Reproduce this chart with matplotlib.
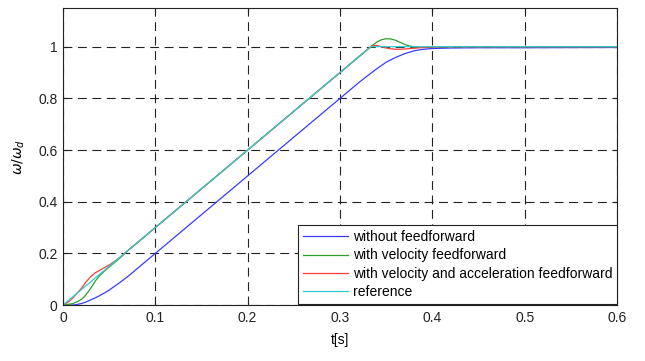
import matplotlib
matplotlib.use("Agg")
import matplotlib.pyplot as plt

plt.rcParams['font.family'] = ['Liberation Sans', 'DejaVu Sans']

# === Data ===
t_ref = [0.0, 0.3333, 0.6]
w_ref = [0.0, 1.0, 1.0]

t_noff = [0.0, 0.01, 0.015, 0.02, 0.025, 0.03, 0.035, 0.04, 0.045, 0.05, 0.06, 0.07,
          0.08, 0.1, 0.2, 0.3, 0.31, 0.32, 0.33, 0.34, 0.35, 0.36, 0.37, 0.38, 0.39,
          0.40, 0.42, 0.45, 0.5, 0.6]
w_noff = [0.0, 0.0, 0.002, 0.006, 0.012, 0.02, 0.028, 0.037, 0.047, 0.058, 0.083, 0.11,
          0.14, 0.2, 0.5, 0.8, 0.83, 0.86, 0.888, 0.915, 0.94, 0.958, 0.973, 0.984, 0.99,
          0.993, 0.995, 0.996, 0.996, 0.997]

t_vel = [0.0, 0.01, 0.015, 0.02, 0.025, 0.03, 0.035, 0.04, 0.045, 0.05, 0.055, 0.06,
         0.07, 0.1, 0.2, 0.3, 0.33, 0.335, 0.34, 0.345, 0.35, 0.355, 0.36, 0.365, 0.37,
         0.375, 0.38, 0.39, 0.4, 0.45, 0.6]
w_vel = [0.0, 0.005, 0.012, 0.022, 0.04, 0.065, 0.093, 0.115, 0.132, 0.147, 0.162, 0.177,
         0.21, 0.3, 0.6, 0.9, 0.99, 1.005, 1.018, 1.027, 1.031, 1.03, 1.025, 1.017, 1.009,
         1.003, 1.0, 0.998, 0.999, 1.0, 1.0]

t_acc = [0.0, 0.005, 0.01, 0.015, 0.02, 0.025, 0.03, 0.035, 0.04, 0.045, 0.05, 0.055,
         0.06, 0.07, 0.1, 0.2, 0.3, 0.33, 0.335, 0.34, 0.345, 0.35, 0.355, 0.36, 0.365,
         0.37, 0.38, 0.39, 0.4, 0.42, 0.6]
w_acc = [0.0, 0.01, 0.025, 0.045, 0.065, 0.09, 0.11, 0.125, 0.135, 0.145, 0.155, 0.167,
         0.18, 0.21, 0.3, 0.6, 0.9, 0.99, 1.003, 1.005, 1.0, 0.995, 0.992, 0.99, 0.99,
         0.991, 0.994, 0.997, 0.999, 1.0, 1.0]

labels = ["without feedforward", "with velocity feedforward",
          "with velocity and acceleration feedforward", "reference"]
colors = ["#3a3aff", "#2e9e2e", "#ff3b3b", "#2ccccc"]

x_ticks = [0, 0.1, 0.2, 0.3, 0.4, 0.5, 0.6]
x_ticklabels = ["0", "0.1", "0.2", "0.3", "0.4", "0.5", "0.6"]
y_ticks = [0, 0.2, 0.4, 0.6, 0.8, 1.0]
y_ticklabels = ["0", "0.2", "0.4", "0.6", "0.8", "1"]

# === Plotting ===
fig = plt.figure(figsize=(6.45, 3.61), dpi=100)
ax = fig.add_axes([0.0977, 0.155, 0.8589, 0.823])

series = [(t_noff, w_noff), (t_vel, w_vel), (t_acc, w_acc), (t_ref, w_ref)]
for (t, w), lab, c in zip(series, labels, colors):
    ax.plot(t, w, color=c, linewidth=0.9, label=lab)

ax.set_xlim(0, 0.6)
ax.set_ylim(0, 1.15)
ax.set_xticks(x_ticks)
ax.set_xticklabels(x_ticklabels)
ax.set_yticks(y_ticks)
ax.set_yticklabels(y_ticklabels)
ax.tick_params(direction='in', top=True, right=True, length=3, width=0.8,
               labelsize=10, colors='#222222', pad=4)
for s in ax.spines.values():
    s.set_linewidth(0.8)
    s.set_color('#222222')

ax.grid(True, color='#222222', linestyle=(0, (8, 5)), linewidth=0.8)

ax.set_xlabel("t[s]", fontsize=10, labelpad=6)
ax.set_ylabel(r"$\omega/\omega_d$", fontsize=10, labelpad=8)

leg = ax.legend(loc='lower right', bbox_to_anchor=(1.0, 0.005), fontsize=10,
                fancybox=False, framealpha=1, edgecolor='#222222',
                handlelength=3.3, labelspacing=0.3, borderaxespad=0,
                borderpad=0.35, handletextpad=0.3)
leg.get_frame().set_linewidth(0.8)

fig.savefig("out.png", dpi=100)
